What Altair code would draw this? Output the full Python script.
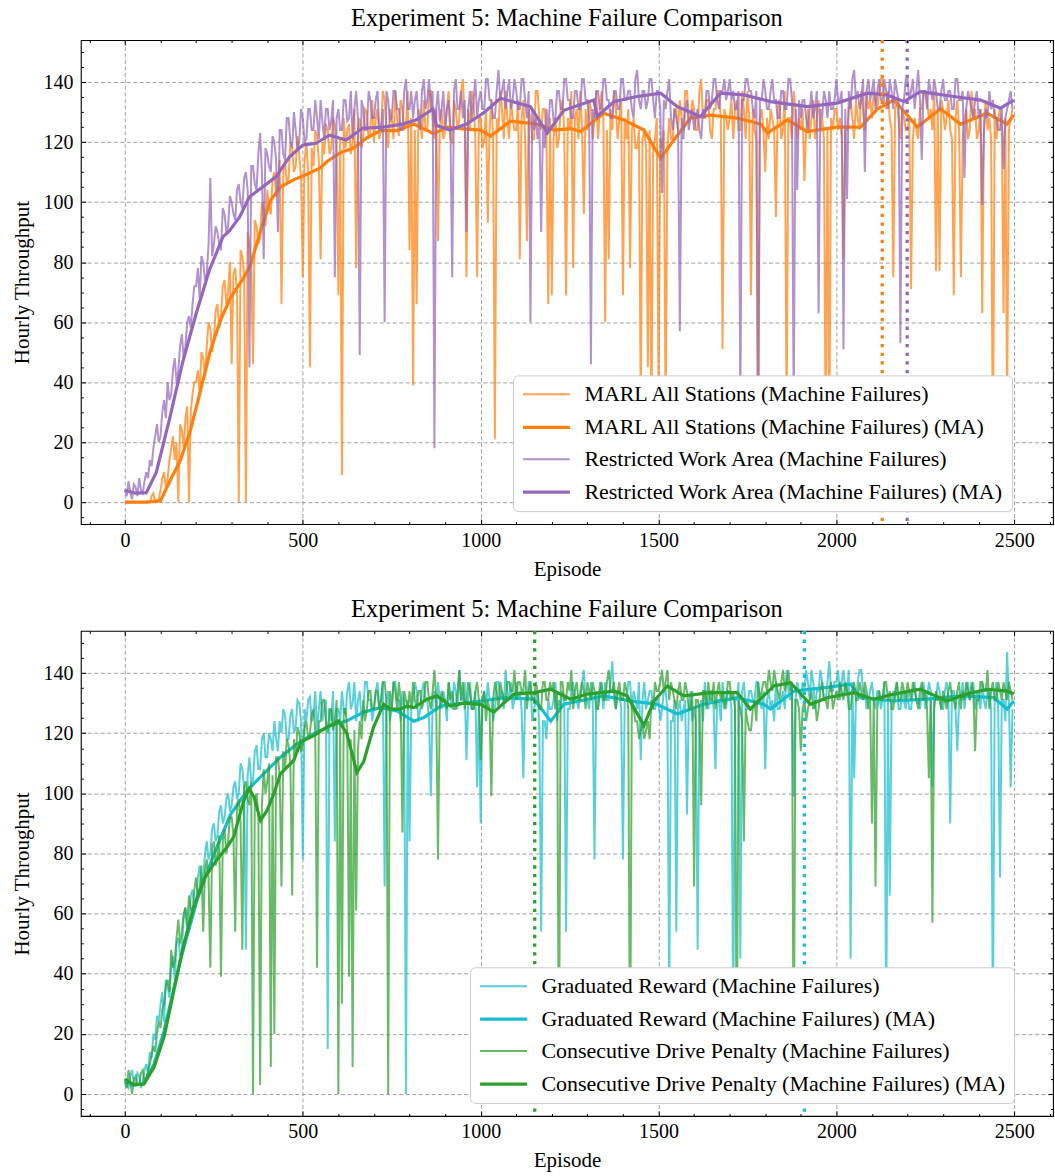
import altair as alt
import pandas as pd

# ---------------- data (one value every 5 episodes) ----------------
EPISODES = list(range(0, 2500, 5))

MARL_RAW = [
    0, 0, 0, 0, 0, 0, 0, 0, 0, 0, 0, 0, 0, 0, 0, 2, 3, 0, 0, 1,
    4, 8, 10, 5, 8, 14, 18, 22, 14, 20, 0, 26, 24, 18, 28, 32, 0, 30, 36, 40,
    40, 44, 36, 50, 48, 42, 52, 60, 58, 50, 54, 64, 66, 58, 62, 72, 74, 66, 70, 80,
    46, 76, 78, 70, 0, 84, 82, 76, 0, 90, 86, 80, 46, 94, 92, 86, 88, 100, 98, 92,
    104, 98, 96, 108, 110, 102, 106, 114, 66, 110, 114, 106, 108, 120, 118, 110, 112, 122, 116, 108,
    75, 114, 120, 110, 45, 118, 112, 124, 122, 114, 81, 120, 116, 126, 124, 116, 118, 128, 126, 118,
    69, 121, 9, 128, 118, 124, 126, 116, 120, 131, 78, 124, 128, 118, 122, 131, 130, 121, 124, 134,
    120, 128, 131, 121, 124, 137, 134, 124, 118, 131, 128, 121, 137, 128, 122, 134, 131, 124, 126, 137,
    84, 128, 39, 124, 66, 131, 128, 121, 134, 124, 124, 137, 137, 128, 121, 131, 87, 124, 131, 121,
    124, 131, 137, 121, 120, 134, 131, 124, 128, 137, 141, 128, 75, 131, 124, 137, 134, 121, 75, 128,
    128, 118, 121, 131, 93, 124, 134, 121, 21, 128, 124, 137, 131, 121, 137, 128, 121, 134, 128, 124,
    124, 134, 81, 128, 134, 121, 87, 131, 128, 121, 121, 137, 137, 128, 124, 131, 131, 121, 66, 128,
    69, 121, 128, 118, 121, 131, 134, 124, 69, 128, 124, 137, 78, 128, 131, 121, 137, 124, 96, 131,
    124, 134, 131, 121, 128, 137, 121, 131, 137, 128, 60, 124, 81, 131, 124, 137, 131, 121, 128, 134,
    69, 128, 121, 131, 78, 124, 128, 118, 118, 124, 30, 121, 124, 118, 45, 124, 20, 118, 121, 128,
    35, 121, 118, 124, 25, 118, 128, 121, 121, 131, 131, 124, 134, 128, 124, 137, 137, 128, 128, 134,
    131, 124, 124, 137, 141, 128, 128, 134, 134, 124, 121, 131, 131, 137, 137, 128, 51, 131, 128, 124,
    128, 134, 121, 131, 134, 124, 124, 137, 131, 121, 137, 128, 69, 131, 124, 121, 10, 128, 131, 124,
    110, 128, 121, 131, 128, 124, 95, 131, 134, 121, 124, 137, 25, 128, 128, 121, 137, 131, 121, 128,
    124, 131, 107, 124, 131, 121, 128, 134, 121, 128, 134, 124, 128, 121, 20, 124, 15, 128, 124, 131,
    131, 124, 128, 121, 81, 124, 124, 131, 134, 128, 121, 134, 128, 124, 137, 131, 124, 137, 131, 134,
    128, 137, 134, 131, 137, 141, 141, 134, 131, 137, 128, 124, 75, 131, 134, 128, 121, 131, 128, 124,
    124, 128, 71, 121, 128, 124, 121, 131, 131, 137, 137, 134, 128, 131, 124, 137, 77, 131, 77, 134,
    131, 124, 128, 134, 124, 121, 69, 128, 134, 124, 75, 121, 128, 131, 121, 124, 137, 128, 131, 121,
    124, 131, 63, 128, 134, 124, 128, 121, 10, 131, 121, 128, 131, 124, 63, 128, 30, 124, 128, 131,
]

RWA_RAW = [
    4, 2, 7, 3, 1, 6, 5, 2, 8, 4, 3, 7, 10, 8, 14, 12, 18, 22, 26, 20,
    22, 30, 34, 28, 40, 34, 36, 44, 48, 40, 44, 52, 56, 48, 52, 60, 62, 58, 66, 72,
    72, 78, 68, 82, 80, 74, 76, 86, 108, 82, 86, 92, 90, 86, 84, 98, 96, 90, 92, 102,
    100, 96, 94, 104, 106, 100, 98, 108, 110, 104, 45, 112, 112, 106, 104, 116, 123, 110, 81, 118,
    116, 112, 110, 122, 120, 114, 90, 124, 124, 116, 114, 128, 128, 120, 118, 130, 124, 118, 120, 131,
    128, 120, 121, 131, 131, 124, 124, 134, 128, 121, 134, 127, 121, 131, 131, 124, 127, 134, 75, 128,
    131, 124, 124, 134, 134, 127, 128, 137, 121, 131, 137, 128, 49, 134, 131, 124, 124, 137, 134, 128,
    128, 134, 137, 124, 124, 131, 60, 137, 134, 127, 128, 137, 137, 131, 131, 124, 124, 137, 141, 131,
    131, 137, 128, 134, 137, 128, 124, 137, 141, 131, 134, 141, 131, 137, 18, 131, 137, 127, 131, 137,
    124, 131, 134, 124, 75, 137, 141, 131, 131, 137, 128, 134, 90, 131, 137, 127, 134, 141, 128, 134,
    137, 131, 131, 141, 141, 134, 134, 128, 128, 137, 144, 134, 137, 141, 131, 137, 141, 131, 134, 141,
    137, 131, 131, 141, 141, 134, 128, 137, 60, 131, 124, 128, 121, 127, 90, 124, 118, 131, 124, 134,
    134, 127, 128, 137, 137, 131, 131, 141, 141, 134, 134, 128, 128, 137, 137, 131, 131, 141, 141, 134,
    134, 128, 46, 131, 128, 137, 137, 131, 131, 141, 141, 134, 134, 128, 128, 137, 137, 131, 131, 141,
    141, 134, 134, 137, 137, 131, 128, 141, 144, 134, 131, 137, 137, 131, 134, 141, 141, 134, 128, 137,
    137, 131, 103, 134, 131, 137, 141, 128, 124, 131, 128, 124, 57, 128, 121, 131, 134, 124, 128, 131,
    124, 128, 131, 124, 121, 131, 128, 137, 137, 131, 134, 141, 141, 134, 131, 137, 137, 141, 134, 137,
    141, 134, 137, 131, 131, 137, 30, 134, 134, 141, 141, 137, 137, 131, 128, 137, 20, 134, 134, 141,
    137, 131, 131, 137, 141, 134, 134, 128, 128, 137, 137, 131, 131, 141, 141, 134, 30, 131, 104, 134,
    128, 134, 134, 128, 124, 131, 137, 128, 131, 137, 63, 131, 128, 137, 134, 128, 137, 131, 131, 134,
    141, 134, 134, 137, 51, 131, 101, 137, 131, 141, 144, 134, 137, 131, 134, 141, 110, 137, 141, 134,
    137, 141, 131, 137, 141, 134, 134, 141, 137, 131, 141, 137, 131, 141, 137, 134, 53, 131, 134, 141,
    141, 134, 137, 141, 131, 137, 144, 134, 114, 137, 137, 131, 141, 137, 134, 141, 137, 131, 131, 137,
    141, 134, 134, 137, 137, 131, 131, 141, 141, 134, 134, 137, 108, 131, 137, 134, 131, 128, 134, 137,
    128, 131, 99, 124, 131, 128, 137, 131, 134, 128, 128, 124, 124, 131, 111, 128, 131, 134, 137, 131,
]

GRAD_RAW = [
    5, 3, 2, 6, 8, 4, 3, 7, 6, 2, 4, 8, 10, 7, 14, 12, 20, 18, 26, 24,
    30, 34, 24, 38, 36, 32, 42, 46, 38, 50, 52, 46, 48, 58, 62, 54, 56, 66, 68, 62,
    64, 72, 76, 70, 72, 80, 84, 78, 80, 88, 90, 84, 86, 94, 96, 90, 92, 98, 100, 94,
    96, 102, 104, 98, 100, 110, 108, 102, 48, 106, 112, 104, 104, 114, 116, 108, 108, 118, 120, 112,
    112, 120, 118, 114, 124, 118, 114, 124, 120, 128, 126, 118, 118, 126, 128, 120, 122, 131, 130, 124,
    78, 128, 124, 131, 132, 124, 126, 134, 120, 128, 134, 124, 128, 131, 15, 128, 124, 134, 84, 128,
    128, 124, 134, 128, 126, 134, 137, 128, 130, 137, 124, 131, 134, 124, 128, 137, 137, 131, 131, 124,
    128, 134, 137, 128, 131, 137, 69, 131, 134, 124, 128, 137, 137, 131, 131, 124, 134, 128, 0, 131,
    84, 128, 131, 137, 134, 124, 128, 134, 137, 131, 131, 124, 99, 131, 134, 128, 137, 131, 128, 134,
    131, 124, 137, 131, 128, 137, 134, 128, 141, 131, 131, 137, 111, 131, 137, 128, 128, 134, 102, 131,
    90, 131, 134, 128, 137, 131, 131, 124, 128, 137, 137, 131, 134, 128, 141, 134, 131, 137, 128, 131,
    137, 131, 134, 128, 105, 131, 131, 137, 137, 124, 128, 131, 134, 121, 54, 124, 124, 118, 131, 128,
    128, 131, 137, 124, 131, 128, 134, 131, 54, 128, 128, 134, 137, 131, 131, 128, 134, 137, 141, 131,
    131, 128, 137, 131, 78, 134, 128, 137, 134, 128, 137, 131, 131, 137, 144, 131, 128, 134, 134, 128,
    78, 131, 131, 137, 137, 128, 134, 131, 128, 137, 111, 131, 137, 128, 131, 134, 134, 128, 128, 131,
    131, 124, 128, 134, 134, 128, 30, 124, 124, 131, 54, 128, 131, 124, 128, 131, 93, 128, 134, 124,
    128, 124, 48, 128, 131, 124, 137, 131, 128, 134, 134, 128, 108, 131, 131, 124, 137, 131, 128, 134,
    134, 128, 20, 131, 131, 137, 45, 134, 137, 128, 128, 134, 134, 131, 131, 137, 137, 131, 128, 134,
    108, 131, 134, 128, 131, 124, 137, 128, 128, 131, 134, 128, 141, 134, 131, 137, 99, 131, 137, 134,
    131, 137, 134, 141, 137, 131, 141, 137, 128, 134, 134, 141, 137, 131, 131, 137, 144, 134, 134, 137,
    137, 141, 131, 137, 141, 134, 134, 141, 45, 137, 105, 131, 137, 141, 141, 134, 134, 128, 131, 134,
    137, 131, 128, 134, 134, 128, 131, 137, 20, 131, 66, 128, 134, 131, 137, 128, 128, 134, 131, 128,
    134, 128, 128, 134, 137, 131, 131, 128, 134, 137, 128, 131, 137, 134, 102, 131, 131, 137, 134, 128,
    128, 134, 137, 131, 90, 134, 134, 128, 114, 131, 131, 137, 128, 134, 137, 131, 134, 137, 128, 134,
    131, 128, 137, 131, 128, 134, 134, 128, 20, 131, 137, 128, 72, 131, 131, 124, 147, 131, 102, 128,
]

CDP_RAW = [
    4, 2, 8, 4, 0, 5, 6, 3, 3, 7, 8, 4, 5, 8, 10, 13, 16, 14, 20, 24,
    22, 28, 30, 36, 38, 34, 48, 42, 44, 52, 58, 50, 54, 60, 62, 56, 66, 62, 60, 68,
    72, 66, 68, 76, 54, 74, 78, 72, 42, 82, 84, 76, 80, 86, 39, 84, 88, 80, 84, 92,
    92, 86, 54, 96, 98, 90, 48, 102, 104, 98, 96, 104, 0, 98, 100, 92, 3, 96, 108, 100,
    104, 110, 9, 106, 20, 112, 112, 106, 69, 114, 108, 118, 116, 110, 66, 118, 112, 122, 120, 114,
    116, 122, 124, 118, 120, 126, 128, 121, 42, 124, 124, 131, 131, 124, 120, 128, 128, 121, 124, 131,
    0, 124, 30, 128, 128, 121, 39, 118, 9, 121, 61, 114, 124, 118, 131, 124, 128, 134, 134, 128,
    128, 134, 134, 128, 131, 137, 137, 131, 0, 134, 128, 137, 134, 128, 137, 131, 87, 134, 131, 128,
    134, 128, 137, 131, 128, 134, 134, 128, 131, 137, 137, 131, 128, 134, 141, 131, 78, 128, 134, 131,
    131, 128, 137, 131, 134, 128, 128, 134, 141, 131, 137, 128, 131, 137, 134, 128, 128, 134, 137, 131,
    111, 131, 134, 124, 131, 128, 99, 131, 137, 134, 128, 137, 134, 131, 131, 137, 137, 134, 134, 141,
    131, 137, 137, 134, 134, 141, 128, 134, 137, 131, 131, 137, 134, 128, 128, 137, 137, 131, 131, 137,
    134, 137, 128, 134, 0, 137, 137, 131, 131, 137, 134, 141, 128, 134, 137, 131, 131, 137, 134, 128,
    137, 134, 131, 137, 134, 128, 128, 134, 137, 131, 131, 137, 141, 134, 134, 137, 128, 134, 137, 131,
    131, 137, 134, 128, 0, 131, 128, 124, 124, 118, 121, 124, 118, 121, 124, 118, 131, 128, 137, 134,
    134, 137, 141, 134, 137, 141, 131, 137, 134, 131, 128, 134, 137, 131, 131, 137, 134, 128, 128, 134,
    69, 131, 131, 128, 96, 134, 134, 128, 137, 131, 131, 137, 128, 134, 137, 131, 134, 128, 131, 137,
    137, 131, 134, 128, 0, 131, 128, 124, 84, 128, 124, 121, 121, 128, 131, 124, 137, 131, 134, 137,
    137, 134, 141, 137, 134, 141, 137, 134, 131, 137, 141, 134, 137, 141, 134, 137, 0, 131, 131, 128,
    114, 128, 131, 124, 128, 131, 134, 128, 131, 124, 128, 134, 137, 131, 131, 128, 134, 137, 128, 131,
    134, 131, 137, 134, 131, 137, 134, 128, 128, 134, 137, 131, 131, 137, 134, 131, 137, 134, 128, 131,
    90, 131, 69, 128, 134, 131, 131, 137, 137, 131, 134, 128, 128, 134, 137, 131, 131, 137, 134, 131,
    137, 134, 131, 137, 134, 131, 128, 134, 137, 131, 134, 128, 105, 131, 57, 128, 134, 131, 131, 128,
    134, 131, 128, 134, 137, 131, 131, 128, 134, 137, 128, 134, 131, 137, 134, 131, 137, 134, 114, 131,
    131, 137, 137, 134, 134, 141, 128, 134, 137, 131, 131, 137, 134, 131, 137, 134, 131, 137, 134, 131,
]

# moving averages (episode, value)
MARL_MA_EP = [0, 60, 100, 128, 156, 184, 212, 240, 268, 296, 334, 353, 381, 409, 437, 475, 512, 550, 569, 606,
              643, 681, 718, 765, 812, 840, 868, 906, 953, 1000, 1028, 1084, 1159, 1206, 1253, 1281, 1346, 1403,
              1459, 1506, 1543, 1590, 1646, 1721, 1787, 1806, 1862, 1918, 2002, 2068, 2115, 2162, 2199, 2227,
              2293, 2349, 2424, 2480, 2499]
MARL_MA = [0, 0, 0.5, 7.5, 14, 24, 37, 50.4, 60.4, 68, 74.8, 79, 90.4, 100.5, 105, 107.5, 109.3, 111.5, 113.6, 116.5,
           118, 121.5, 123.8, 123.8, 126, 124.4, 122.8, 125, 124.4, 124, 122, 127, 126, 124, 124.5, 123.5, 129.6, 127.4,
           124, 114.6, 120.7, 128, 129, 128, 126, 123, 127.4, 123.5, 125, 125, 131, 134, 129, 125,
           131, 126, 129.6, 126, 129]

RWA_MA_EP = [0, 30, 60, 88, 125, 162, 200, 237, 275, 294, 322, 350, 387, 425, 462, 500, 537, 575, 622, 668,
             725, 781, 819, 866, 875, 913, 960, 1007, 1056, 1140, 1187, 1234, 1318, 1328, 1375, 1440, 1506, 1553,
             1618, 1674, 1740, 1815, 1918, 2002, 2087, 2143, 2190, 2236, 2330, 2405, 2461, 2499]
RWA_MA = [4, 3, 3.2, 9.9, 27.6, 46.5, 62.8, 77.2, 88.3, 90.5, 95, 101.8, 105, 108.5, 115, 119, 119.6, 122.3, 120.7, 124.6,
          125, 126, 127.4, 131, 125.6, 124, 126, 129.6, 134.6, 131.8, 123, 130.6, 134, 128.6, 133.5, 135.2, 136.3, 131.8,
          128.5, 136.3, 135.7, 133.5, 131.8, 133, 136.3, 135.7, 133.5, 136.8, 135.2, 134, 131.3, 134]

GRAD_MA_EP = [0, 25, 53, 82, 110, 156, 203, 251, 297, 344, 391, 437, 484, 531, 578, 624, 671, 718, 765, 812,
              840, 887, 952, 1000, 1066, 1150, 1197, 1234, 1346, 1421, 1496, 1553, 1627, 1721, 1796, 1815, 1881, 1974,
              2040, 2068, 2162, 2255, 2349, 2443, 2480, 2499]
GRAD_MA = [4, 3, 3.5, 10, 21, 44.6, 64.6, 80, 93, 101, 106.6, 112, 116.5, 119.8, 122.5, 124.1, 127, 128.5, 127.4, 124,
           125.2, 129, 130, 130.7, 131.8, 131.3, 124, 129.6, 132.4, 130.7, 129.6, 126.4, 129.6, 131.8, 129.6, 128, 134,
           135.2, 136.3, 131.8, 130.7, 131.3, 132.4, 131.8, 128, 130.7]

CDP_MA_EP = [0, 25, 53, 82, 110, 138, 166, 194, 223, 251, 269, 288, 306, 334, 349, 363, 381, 400, 419, 437,
             475, 494, 531, 568, 601, 624, 652, 671, 699, 727, 746, 774, 793, 812, 849, 877, 915, 952, 1000, 1037,
             1094, 1150, 1197, 1253, 1300, 1375, 1412, 1459, 1487, 1525, 1571, 1646, 1721, 1758, 1824, 1871, 1927,
             1974, 2049, 2105, 2162, 2236, 2311, 2367, 2424, 2480, 2499]
CDP_MA = [5, 3.1, 3.3, 9, 19, 34.7, 50, 62.4, 71.7, 76.7, 79.5, 82.3, 85.6, 97.6, 101.5, 98.7, 91, 94.4, 100, 106.5,
          111, 117, 119.2, 122, 124.1, 119.8, 107, 110.5, 122, 129.6, 128, 128, 129, 128.5, 131.3, 132.4, 129, 130,
          129.6, 127, 133, 133.5, 134.6, 131.3, 133, 134, 132.4, 122.5, 130.7, 135.7, 132.4, 133.5, 133.5, 128, 135.7,
          136.8, 129.6, 131.8, 133.5, 131.3, 133, 134.6, 130.7, 133, 134.6, 134, 133]

# best-episode markers (dotted vertical lines), in series order
TOP_MARKERS = [2129, 2199]      # MARL All Stations, Restricted Work Area
BOTTOM_MARKERS = [1910, 1152]   # Graduated Reward, Consecutive Drive Penalty

NAMES_TOP = ["MARL All Stations (Machine Failures)", "Restricted Work Area (Machine Failures)"]
NAMES_BOTTOM = ["Graduated Reward (Machine Failures)", "Consecutive Drive Penalty (Machine Failures)"]
COLORS_TOP = ["#ff7f0e", "#9467bd"]
COLORS_BOTTOM = ["#17becf", "#2ca02c"]

TITLE = "Experiment 5: Machine Failure Comparison"
X_DOMAIN = [-124, 2609]
Y_DOMAIN = [-7.3, 154]
X_MAJOR = [0, 500, 1000, 1500, 2000, 2500]
X_MINOR = [v for v in range(-100, 2700, 100) if v % 500 != 0]
Y_MAJOR = list(range(0, 141, 20))
Y_MINOR = [v for v in range(-5, 155, 5) if v % 20 != 0]
FONT = "Liberation Serif"


def panel(names, colors, raw_a, ma_ep_a, ma_a, raw_b, ma_ep_b, ma_b, markers, legend_x, legend_y, height):
    na, nb = names
    ca, cb = colors
    dom = [na, na + " (MA)", nb, nb + " (MA)"]

    raw_df = pd.DataFrame({
        "Episode": EPISODES + EPISODES,
        "Throughput": raw_a + raw_b,
        "series": [na] * len(raw_a) + [nb] * len(raw_b),
    })
    ma_df = pd.DataFrame({
        "Episode": ma_ep_a + ma_ep_b,
        "Throughput": ma_a + ma_b,
        "series": [na + " (MA)"] * len(ma_a) + [nb + " (MA)"] * len(ma_b),
    })
    mk_df = pd.DataFrame({"Episode": markers, "series": [na + " (MA)", nb + " (MA)"]})

    xs = alt.Scale(domain=X_DOMAIN, nice=False, zero=False)
    ys = alt.Scale(domain=Y_DOMAIN, nice=False, zero=False)

    legend = alt.Legend(
        title=None, orient="none", legendX=legend_x, legendY=legend_y,
        symbolType="M-2.35,0H2.35", symbolSize=400, symbolOffset=13.5,
        labelOffset=26, padding=8, rowPadding=10,
        fillColor="white", strokeColor="#cccccc", cornerRadius=5,
        labelFont=FONT, labelFontSize=22, labelColor="black", labelLimit=1000,
    )
    color_scale = alt.Scale(type="ordinal", domain=dom, range=[ca, ca, cb, cb])
    enc = dict(
        color=alt.Color("series:N", scale=color_scale, legend=legend),
        opacity=alt.Opacity("series:N", scale=alt.Scale(type="ordinal", domain=dom, range=[0.72, 1, 0.72, 1]),
                            legend=legend),
        strokeWidth=alt.StrokeWidth("series:N", scale=alt.Scale(type="ordinal", domain=dom,
                                                                range=[2.0, 3.2, 2.0, 3.2]), legend=legend),
    )

    x_main = alt.X("Episode:Q", scale=xs, axis=alt.Axis(
        orient="bottom", values=X_MAJOR, format="d", grid=True, ticks=False, tickSize=0, domain=False,
        labelPadding=6, title="Episode", titlePadding=8))
    y_main = alt.Y("Throughput:Q", scale=ys, axis=alt.Axis(
        orient="left", values=Y_MAJOR, format="d", grid=True, ticks=False, tickSize=0, domain=False,
        labelPadding=8, title="Hourly Throughput", titlePadding=10))
    x_none = alt.X("Episode:Q", scale=xs, axis=None)
    y_none = alt.Y("Throughput:Q", scale=ys, axis=None)

    def line(df, name, x, y):
        return alt.Chart(df).transform_filter(alt.datum.series == name).mark_line().encode(x=x, y=y, **enc)

    layers = [
        line(raw_df, na, x_main, y_main),
        line(ma_df, na + " (MA)", x_none, y_none),
        line(raw_df, nb, x_none, y_none),
        line(ma_df, nb + " (MA)", x_none, y_none),
        alt.Chart(mk_df).mark_rule(strokeWidth=3.3, strokeDash=[3.3, 5.4]).encode(
            x=x_none,
            color=alt.Color("series:N", scale=color_scale, legend=None),
        ),
    ]

    def tick_axis(orient, values, size):
        return alt.Axis(orient=orient, values=values, offset=-size, tickSize=size, labels=False, domain=False,
                        grid=False, title=None, ticks=True, tickColor="black", tickWidth=1, zindex=2)

    for xo, yo, xv, yv, size in [
        ("bottom", "left", X_MAJOR, Y_MAJOR, 5),
        ("bottom", "left", X_MINOR, Y_MINOR, 2.5),
        ("top", "right", X_MAJOR, Y_MAJOR, 5),
        ("top", "right", X_MINOR, Y_MINOR, 2.5),
    ]:
        layers.append(
            alt.Chart(ma_df).mark_line(opacity=0).encode(
                x=alt.X("Episode:Q", scale=xs, axis=tick_axis(xo, xv, size)),
                y=alt.Y("Throughput:Q", scale=ys, axis=tick_axis(yo, yv, size)),
                detail="series:N",
            )
        )

    return alt.layer(*layers).resolve_axis(x="independent", y="independent").properties(
        width=974, height=height,
        title=alt.TitleParams(TITLE, anchor="middle", offset=7),
    )


top = panel(NAMES_TOP, COLORS_TOP, MARL_RAW, MARL_MA_EP, MARL_MA, RWA_RAW, RWA_MA_EP, RWA_MA,
            TOP_MARKERS, 433, 336, 485)
bottom = panel(NAMES_BOTTOM, COLORS_BOTTOM, GRAD_RAW, GRAD_MA_EP, GRAD_MA, CDP_RAW, CDP_MA_EP, CDP_MA,
               BOTTOM_MARKERS, 390, 337, 486)

chart = alt.vconcat(top, bottom, spacing=16).resolve_scale(
    x="independent", y="independent", color="independent", opacity="independent", strokeWidth="independent"
).resolve_legend(color="independent", opacity="independent", strokeWidth="independent").properties(
    padding={"left": 11, "top": 4, "right": 0, "bottom": 0}
).configure_view(
    stroke="black", strokeWidth=1.1
).configure_axis(
    labelFont=FONT, labelFontSize=20, labelColor="black",
    titleFont=FONT, titleFontSize=21, titleFontWeight="normal", titleColor="black",
    gridColor="#8a8a8a", gridDash=[4, 2.5], gridWidth=0.8,
).configure_title(
    font=FONT, fontSize=24.5, fontWeight="normal", color="black"
).configure_legend(
    labelFont=FONT, labelFontSize=22, labelColor="black"
)

chart.save("out.html", embed_options={"renderer": "svg", "actions": False})
